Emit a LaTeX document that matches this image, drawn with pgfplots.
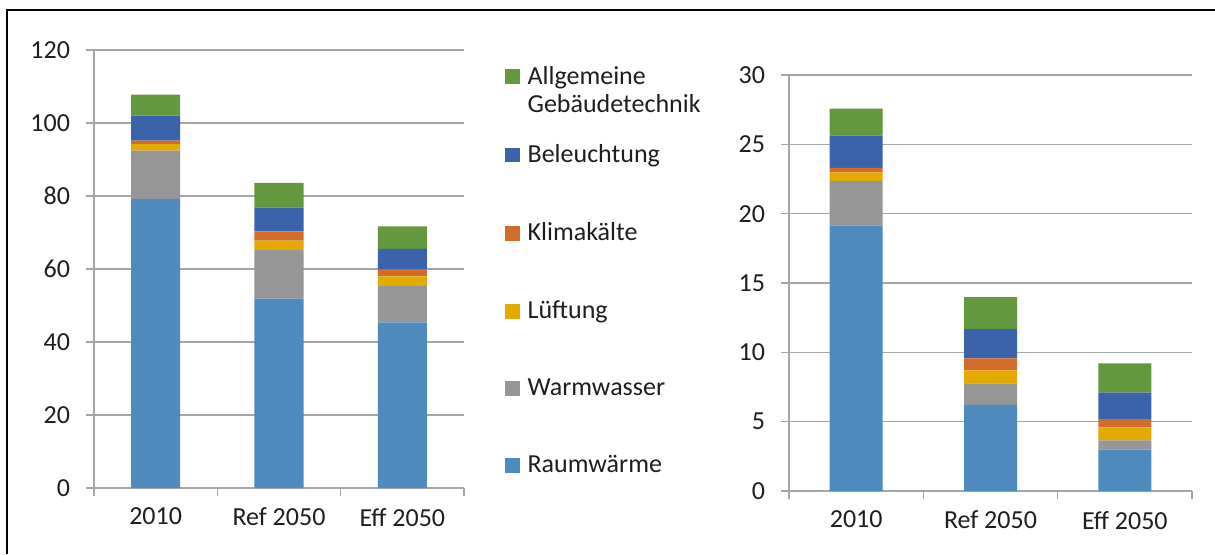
\documentclass[border=0pt]{standalone}
\usepackage{pgfplots}
\pgfplotsset{compat=1.18}
\usepackage{pgfplotstable}
\usepackage{fontspec}
\setmainfont{Carlito}

\definecolor{raum}{RGB}{79,138,190}
\definecolor{ww}{RGB}{150,150,150}
\definecolor{lueft}{RGB}{228,170,0}
\definecolor{klima}{RGB}{211,108,42}
\definecolor{bel}{RGB}{59,99,172}
\definecolor{allg}{RGB}{99,152,63}
\definecolor{gridc}{RGB}{165,165,165}
\definecolor{txt}{RGB}{30,30,30}

% left chart
\pgfplotstableread{
x raum ww lueft klima bel allg
0 79.2 13.2 1.8 1.0 6.8 5.8
1 51.9 13.3 2.6 2.5 6.5 6.8
2 45.4 9.9 2.7 2.0 5.5 6.2
}\leftdata

% right chart
\pgfplotstableread{
x raum ww lueft klima bel allg
0 19.13 3.24 0.60 0.34 2.31 1.95
1 6.22 1.54 0.94 0.87 2.11 2.31
2 2.98 0.67 0.94 0.60 1.90 2.12
}\rightdata

\pgfplotsset{
  excelbar/.style={
    scale only axis,
    ybar stacked,
    xmin=-0.5, xmax=2.5,
    ymin=0,
    axis x line=bottom, axis y line=left,
    axis line style={gridc, line width=0.75pt, -},
    xtick={-0.5,0.5,1.5,2.5},
    x tick label as interval,
    xticklabels={2010,Ref 2050,Eff 2050},
    ymajorgrids,
    grid style={gridc, line width=0.75pt},
    tick style={gridc, line width=0.75pt},
    tick align=outside,
    major tick length=4pt,
    ticklabel style={font=\fontsize{13}{15}\selectfont, text=txt},
    xticklabel style={yshift=-2.5pt},
    yticklabel style={xshift=-4.5pt},
    /pgf/number format/assume math mode=true,
    every axis plot/.append style={draw=none},
  },
}

\begin{document}
\begin{tikzpicture}
\path[use as bounding box] (0,0) rectangle (607.5pt,277pt);
\draw[line width=1pt] (3.5pt,0) -- (3.5pt,272pt) -- (610pt,272pt);

\begin{axis}[excelbar,
  at={(47pt,33pt)}, anchor=south west,
  width=185pt, height=219pt,
  ymax=120, ytick distance=20,
  bar width=24.5pt,
  reverse legend,
  legend cell align=left,
  legend image code/.code={\fill[#1] (0pt,-3.7pt) rectangle (7.4pt,3.7pt);},
  legend style={at={(1.093,0.982)}, anchor=north west, draw=none, fill=none,
    font=\fontsize{13}{14}\selectfont, text=txt, row sep=24.55pt,
    /tikz/every odd column/.append style={column sep=2pt}},
]
\addplot[fill=raum] table[x=x,y=raum] {\leftdata};
\addlegendentry{Raumwärme}
\addplot[fill=ww] table[x=x,y=ww] {\leftdata};
\addlegendentry{Warmwasser}
\addplot[fill=lueft] table[x=x,y=lueft] {\leftdata};
\addlegendentry{Lüftung}
\addplot[fill=klima] table[x=x,y=klima] {\leftdata};
\addlegendentry{Klimakälte}
\addplot[fill=bel] table[x=x,y=bel] {\leftdata};
\addlegendentry{Beleuchtung}
\addplot[fill=allg] table[x=x,y=allg] {\leftdata};
\addlegendentry{\raisebox{0pt}[\height][0pt]{\parbox[t]{3.5cm}{Allgemeine\\Gebäudetechnik}}}
\end{axis}

\begin{axis}[excelbar,
  at={(394.5pt,31.5pt)}, anchor=south west,
  width=201.5pt, height=208pt,
  ymax=30, ytick distance=5,
  bar width=26.5pt,
]
\addplot[fill=raum] table[x=x,y=raum] {\rightdata};
\addplot[fill=ww] table[x=x,y=ww] {\rightdata};
\addplot[fill=lueft] table[x=x,y=lueft] {\rightdata};
\addplot[fill=klima] table[x=x,y=klima] {\rightdata};
\addplot[fill=bel] table[x=x,y=bel] {\rightdata};
\addplot[fill=allg] table[x=x,y=allg] {\rightdata};
\end{axis}
\end{tikzpicture}
\end{document}
